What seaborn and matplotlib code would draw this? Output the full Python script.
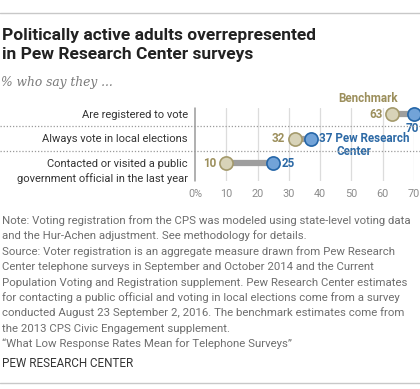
import matplotlib
matplotlib.use("Agg")
import matplotlib.pyplot as plt
import matplotlib.lines as mlines
import matplotlib.transforms as mtransforms
import pandas as pd
import seaborn as sns

categories = ["Are registered to vote",
              "Always vote in local elections",
              "Contacted or visited a public\ngovernment official in the last year"]
benchmark = [63, 32, 10]
pew = [70, 37, 25]
xticks = [0, 10, 20, 30, 40, 50, 60, 70]
xticklabels = ["0%", "10", "20", "30", "40", "50", "60", "70"]

title = ["Politically active adults overrepresented", "in Pew Research Center surveys"]
subtitle = "% who say they ..."
notes = ["Note: Voting registration from the CPS was modeled using state-level voting data",
         "and the Hur-Achen adjustment. See methodology for details.",
         "Source: Voter registration is an aggregate measure drawn from Pew Research",
         "Center telephone surveys in September and October 2014 and the Current",
         "Population Voting and Registration supplement. Pew Research Center estimates",
         "for contacting a public official and voting in local elections come from a survey",
         "conducted August 23 September 2, 2016. The benchmark estimates come from",
         "the 2013 CPS Civic Engagement supplement.",
         "\u201cWhat Low Response Rates Mean for Telephone Surveys\u201d"]

TAN_FILL, TAN_EDGE, TAN_TEXT = "#d8d3b8", "#a49a6c", "#9c8f5c"
BLUE_FILL, BLUE_EDGE, BLUE_TEXT = "#72a3d8", "#2566a8", "#2c69a5"

sns.set_style("white")
plt.rcParams["font.family"] = ["Roboto", "DejaVu Sans"]

W, H = 420, 389
fig = plt.figure(figsize=(W / 100, H / 100), dpi=100)
renderer = fig.canvas.get_renderer()


def fx(px):
    return px / W


def fy(py):
    return 1 - py / H


def fit_size(text, target_px, weight="normal", style="normal", family=None):
    # font size (pt) that makes `text` about target_px wide
    t = fig.text(0, 0, text, fontsize=10, fontweight=weight, style=style,
                 family=family if family else plt.rcParams["font.family"])
    w = t.get_window_extent(renderer).width
    t.remove()
    return 10 * target_px / w


title_fs = fit_size(title[0], 314, weight="bold")
sub_fs = fit_size(subtitle, 112, style="italic", family="DejaVu Serif")
label_fs = fit_size(categories[0], 106)
note_fs = fit_size(notes[0], 410)
pew_fs = fit_size("PEW RESEARCH CENTER", 130)
val_fs = fit_size("37 Pew Research", 90, weight="bold")
tick_fs = 7.8

# axes: x 0..70 mapped to px 195..414, rows at 114/139/163
ax_l, ax_r, ax_t, ax_b = 195, 414, 108, 181
ax = fig.add_axes([fx(ax_l), fy(ax_b), fx(ax_r - ax_l), (ax_b - ax_t) / H])
row_px = 24.5
ax.set_xlim(0, 70)
ax.set_ylim(2 + (ax_b - 163) / row_px, -(114 - ax_t) / row_px)

df = pd.DataFrame({
    "row": list(range(len(categories))) * 2,
    "value": benchmark + pew,
    "series": ["Benchmark"] * len(categories) + ["Pew"] * len(categories),
})

for x in xticks[1:]:
    ax.axvline(x, color="#dcdcdc", lw=0.9, zorder=0)
ax.axvline(0, color="#9a9a9a", lw=1.1, zorder=1, clip_on=False)

ax.hlines(range(len(categories)), benchmark, pew, color="#9e9e9e", lw=4.5, zorder=2, clip_on=False)
sns.scatterplot(data=df[df.series == "Benchmark"], x="value", y="row", ax=ax, s=90,
                color=TAN_FILL, edgecolor=TAN_EDGE, linewidth=1.2, zorder=3, clip_on=False, legend=False)
sns.scatterplot(data=df[df.series == "Pew"], x="value", y="row", ax=ax, s=90,
                color=BLUE_FILL, edgecolor=BLUE_EDGE, linewidth=1.2, zorder=3, clip_on=False, legend=False)

for spine in ax.spines.values():
    spine.set_visible(False)
ax.set_xlabel("")
ax.set_ylabel("")
ax.set_yticks([])
ax.set_xticks(xticks)
ax.set_xticklabels(xticklabels, color="#8c8c8c", fontsize=tick_fs)
ax.tick_params(axis="x", length=0, pad=6)

# value labels
lab = dict(textcoords="offset points", va="center", fontsize=val_fs, fontweight="bold",
           annotation_clip=False)
for i, (b, p) in enumerate(zip(benchmark, pew)):
    ax.annotate(str(b), (b, i), xytext=(-7, 0), ha="right", color=TAN_TEXT, **lab)
    if i == 0:
        ax.annotate(str(p), (p, i), xytext=(-1.5, -10.5), ha="center", color=BLUE_TEXT, **lab)
    elif i == 1:
        ax.annotate(str(p) + " Pew Research", (p, i), xytext=(6, 0), ha="left", color=BLUE_TEXT, **lab)
        ax.annotate("Center", (p, i), xytext=(18.5, -9.5), ha="left", color=BLUE_TEXT, **lab)
    else:
        ax.annotate(str(p), (p, i), xytext=(6, 0), ha="left", color=BLUE_TEXT, **lab)
ax.annotate("Benchmark", (benchmark[0], 0), xytext=(-17.5, 11.5), ha="center", color=TAN_TEXT, **lab)

# row labels
for i, cat in enumerate(categories):
    for j, line in enumerate(cat.split("\n")):
        fig.text(fx(188), fy(118 + i * row_px + j * 15), line, ha="right", va="baseline",
                 fontsize=label_fs, color="#333333")

# dotted separators across the full width
blend = mtransforms.blended_transform_factory(fig.transFigure, ax.transData)
for yv in [0.5, 1.5]:
    fig.add_artist(mlines.Line2D([0, 1], [yv, yv], transform=blend, color="#9a9a9a",
                                 lw=0.9, ls=(0, (1, 1.5))))

# frame lines, title, subtitle, notes
fig.add_artist(mlines.Line2D([0, 1], [fy(13), fy(13)], color="#c8c8c8", lw=1))
fig.add_artist(mlines.Line2D([0, 1], [fy(383), fy(383)], color="#c8c8c8", lw=1))
for k, line in enumerate(title):
    fig.text(fx(2), fy(40 + 19 * k), line, ha="left", va="baseline", fontsize=title_fs,
             fontweight="bold", color="#222222")
fig.text(fx(1), fy(86), subtitle, ha="left", va="baseline", fontsize=sub_fs, style="italic",
         family="DejaVu Serif", color="#7a7a7a")
for k, line in enumerate(notes):
    fig.text(fx(2), fy(224 + 15.4 * k), line, ha="left", va="baseline", fontsize=note_fs,
             color="#6e6e6e")
fig.text(fx(2), fy(367), "PEW RESEARCH CENTER", ha="left", va="baseline", fontsize=pew_fs,
         color="#333333")

fig.savefig("out.png", dpi=100)
